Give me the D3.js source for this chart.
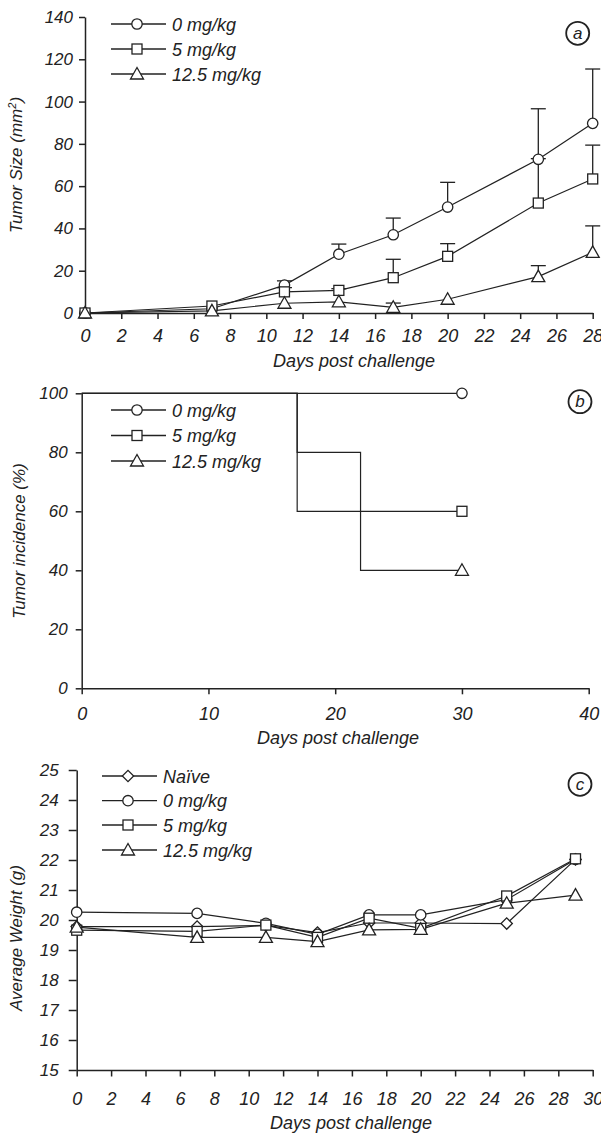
<!DOCTYPE html>
<html>
<head>
<meta charset="utf-8">
<script src="https://cdn.jsdelivr.net/npm/d3@7"></script>
<style>
body{margin:0;background:#fff;}
svg text{font-family:"Liberation Sans",Arial,sans-serif;font-style:italic;fill:#222;}
</style>
</head>
<body>
<script>
// panel a: tumor size
let daysA=[0,7,11,14,17,20,25,28];
let size0=[0,2,13.2,27.8,37,50.1,72.7,89.7];
let err0=[0,0,2,4.8,7.9,11.7,23.9,25.7];
let size5=[0,3.3,10,10.7,16.7,26.8,52,63.4];
let err5=[0,0,2,0.8,8.7,6,21,16];
let size12=[0,1,4.6,5.3,2.7,6.5,17.2,28.7];
let err12=[0,0,0,0,2,0,5.2,12.5];
// panel b: incidence (step)
let daysB0=[0,30],inc0=[100,100];
let daysB5=[0,17,30],inc5=[100,60,60];
let daysB12=[0,17,22,30],inc12=[100,80,40,40];
// panel c: weight
let daysC=[0,7,11,14,17,20,25,29];
let wNaive=[19.78,19.78,19.82,19.58,19.9,19.9,19.88,22.02];
let w0=[20.26,20.22,19.89,19.52,20.17,20.17,20.68,22.02];
let w5=[19.66,19.62,19.83,19.42,20.06,19.72,20.8,22.04];
let w12=[19.76,19.42,19.42,19.28,19.67,19.69,20.56,20.83];
let legendA=["0 mg/kg","5 mg/kg","12.5 mg/kg"];
let legendC=["Naïve","0 mg/kg","5 mg/kg","12.5 mg/kg"];

const ink="#222";
let svg=d3.select("body").append("svg").attr("width",601).attr("height",1135);

function marker(g,type,x,y){
    let m;
    if(type=="circle") m=g.append("circle").attr("r",5.2);
    else if(type=="square") m=g.append("rect").attr("x",-5).attr("y",-5).attr("width",10).attr("height",10);
    else if(type=="diamond") m=g.append("rect").attr("x",-4).attr("y",-4).attr("width",8).attr("height",8).attr("transform","rotate(45)");
    else m=g.append("path").attr("d","M0,-6.5L6.5,5L-6.5,5Z");
    m.attr("fill","#fff").attr("stroke",ink).attr("stroke-width",1.3);
    g.attr("transform",`translate(${x},${y})`);
}

function axes(x,y,xt,yt,o){
    let gx=svg.append("g").attr("transform",`translate(0,${y.range()[0]})`)
        .call(d3.axisBottom(x).tickValues(xt).tickSize(o.xts).tickSizeOuter(0).tickPadding(o.xpad));
    gx.selectAll("text").style("font-size","18px");
    let gy=svg.append("g").attr("transform",`translate(${x.range()[0]},0)`)
        .call(d3.axisLeft(y).tickValues(yt).tickSize(o.yts).tickSizeOuter(0).tickPadding(o.ypad));
    gy.selectAll("text").style("font-size","17px");
    [gx,gy].forEach(g=>{
        g.selectAll("path,line").attr("stroke",ink).attr("stroke-width",1.5);
        g.selectAll("text").attr("fill",ink).style("font-family",'"Liberation Sans",Arial,sans-serif').style("font-style","italic");
    });
}

function legend(names,types,x0,rows){
    names.forEach((n,i)=>{
        svg.append("line").attr("x1",x0).attr("x2",x0+55).attr("y1",rows[i]).attr("y2",rows[i])
            .attr("stroke",ink).attr("stroke-width",1.3);
        marker(svg.append("g"),types[i],x0+26,rows[i]);
        svg.append("text").attr("x",x0+61).attr("y",rows[i]+6.5).style("font-size","18px").text(n);
    });
}

function tag(t,cx,cy){
    svg.append("circle").attr("cx",cx).attr("cy",cy).attr("r",11.5).attr("fill","none").attr("stroke",ink).attr("stroke-width",1.8);
    svg.append("text").attr("x",cx).attr("y",cy+5.5).attr("text-anchor","middle").style("font-size","17px").text(t);
}

function ylabel(t,x,y){
    return svg.append("text").attr("transform",`translate(${x},${y}) rotate(-90)`).attr("text-anchor","middle").style("font-size","17px").text(t);
}
function xlabel(t,x,y){
    svg.append("text").attr("x",x).attr("y",y).attr("text-anchor","middle").style("font-size","18px").text(t);
}

// ---- panel a
let xa=d3.scaleLinear().domain([0,28]).range([85,592.7]);
let ya=d3.scaleLinear().domain([0,140]).range([313,17]);
axes(xa,ya,d3.range(0,29,2),d3.range(0,141,20),{xts:6,xpad:10,yts:6,ypad:6});
let seriesA=[[size0,err0,"circle"],[size5,err5,"square"],[size12,err12,"triangle"]];
seriesA.forEach(([v,e])=>{
    daysA.forEach((d,i)=>{
        if(!e[i]) return;
        let cx=xa(d);
        svg.append("line").attr("x1",cx).attr("x2",cx).attr("y1",ya(v[i])).attr("y2",ya(v[i]+e[i])).attr("stroke",ink).attr("stroke-width",1.3);
        svg.append("line").attr("x1",cx-7.5).attr("x2",cx+7.5).attr("y1",ya(v[i]+e[i])).attr("y2",ya(v[i]+e[i])).attr("stroke",ink).attr("stroke-width",1.3);
    });
});
seriesA.forEach(([v])=>{
    svg.append("path").datum(v).attr("fill","none").attr("stroke",ink).attr("stroke-width",1.2)
        .attr("d",d3.line().x((d,i)=>xa(daysA[i])).y(d=>ya(d)));
});
seriesA.forEach(([v,,t])=>{
    v.forEach((d,i)=>marker(svg.append("g"),t,xa(daysA[i]),ya(d)));
});
legend(legendA,["circle","square","triangle"],111,[24,49,74]);
tag("a",577.7,33.3);
let yla=ylabel("Tumor Size (mm",22,165);
yla.append("tspan").attr("dy",-6).style("font-size","11px").text("2");
yla.append("tspan").attr("dy",6).text(")");
xlabel("Days post challenge",354,367);

// ---- panel b
let xb=d3.scaleLinear().domain([0,40]).range([81.7,588.7]);
let yb=d3.scaleLinear().domain([0,100]).range([688.3,393.3]);
axes(xb,yb,d3.range(0,41,10),d3.range(0,101,20),{xts:6,xpad:13,yts:6,ypad:8});
let seriesB=[[daysB0,inc0,"circle"],[daysB5,inc5,"square"],[daysB12,inc12,"triangle"]];
seriesB.forEach(([ds,v])=>{
    svg.append("path").datum(v).attr("fill","none").attr("stroke",ink).attr("stroke-width",1.2)
        .attr("d",d3.line().curve(d3.curveStepAfter).x((d,i)=>xb(ds[i])).y(d=>yb(d)));
});
seriesB.forEach(([ds,v,t])=>marker(svg.append("g"),t,xb(ds.at(-1)),yb(v.at(-1))));
legend(legendA,["circle","square","triangle"],111,[410,435.5,461]);
tag("b",580,401.7);
ylabel("Tumor incidence (%)",25,541);
xlabel("Days post challenge",338,744);

// ---- panel c
let xc=d3.scaleLinear().domain([0,30]).range([76.7,592.7]);
let yc=d3.scaleLinear().domain([15,25]).range([1070,770]);
axes(xc,yc,d3.range(0,31,2),d3.range(15,26,1),{xts:6.5,xpad:16,yts:8,ypad:10});
let seriesC=[[wNaive,"diamond"],[w0,"circle"],[w5,"square"],[w12,"triangle"]];
seriesC.forEach(([v])=>{
    svg.append("path").datum(v).attr("fill","none").attr("stroke",ink).attr("stroke-width",1.2)
        .attr("d",d3.line().x((d,i)=>xc(daysC[i])).y(d=>yc(d)));
});
seriesC.forEach(([v,t])=>{
    v.forEach((d,i)=>marker(svg.append("g"),t,xc(daysC[i]),yc(d)));
});
legend(legendC,["diamond","circle","square","triangle"],102,[776,800.7,825,850]);
tag("c",580,784.3);
ylabel("Average Weight (g)",22,938);
xlabel("Days post challenge",351,1129);
</script>
</body>
</html>
